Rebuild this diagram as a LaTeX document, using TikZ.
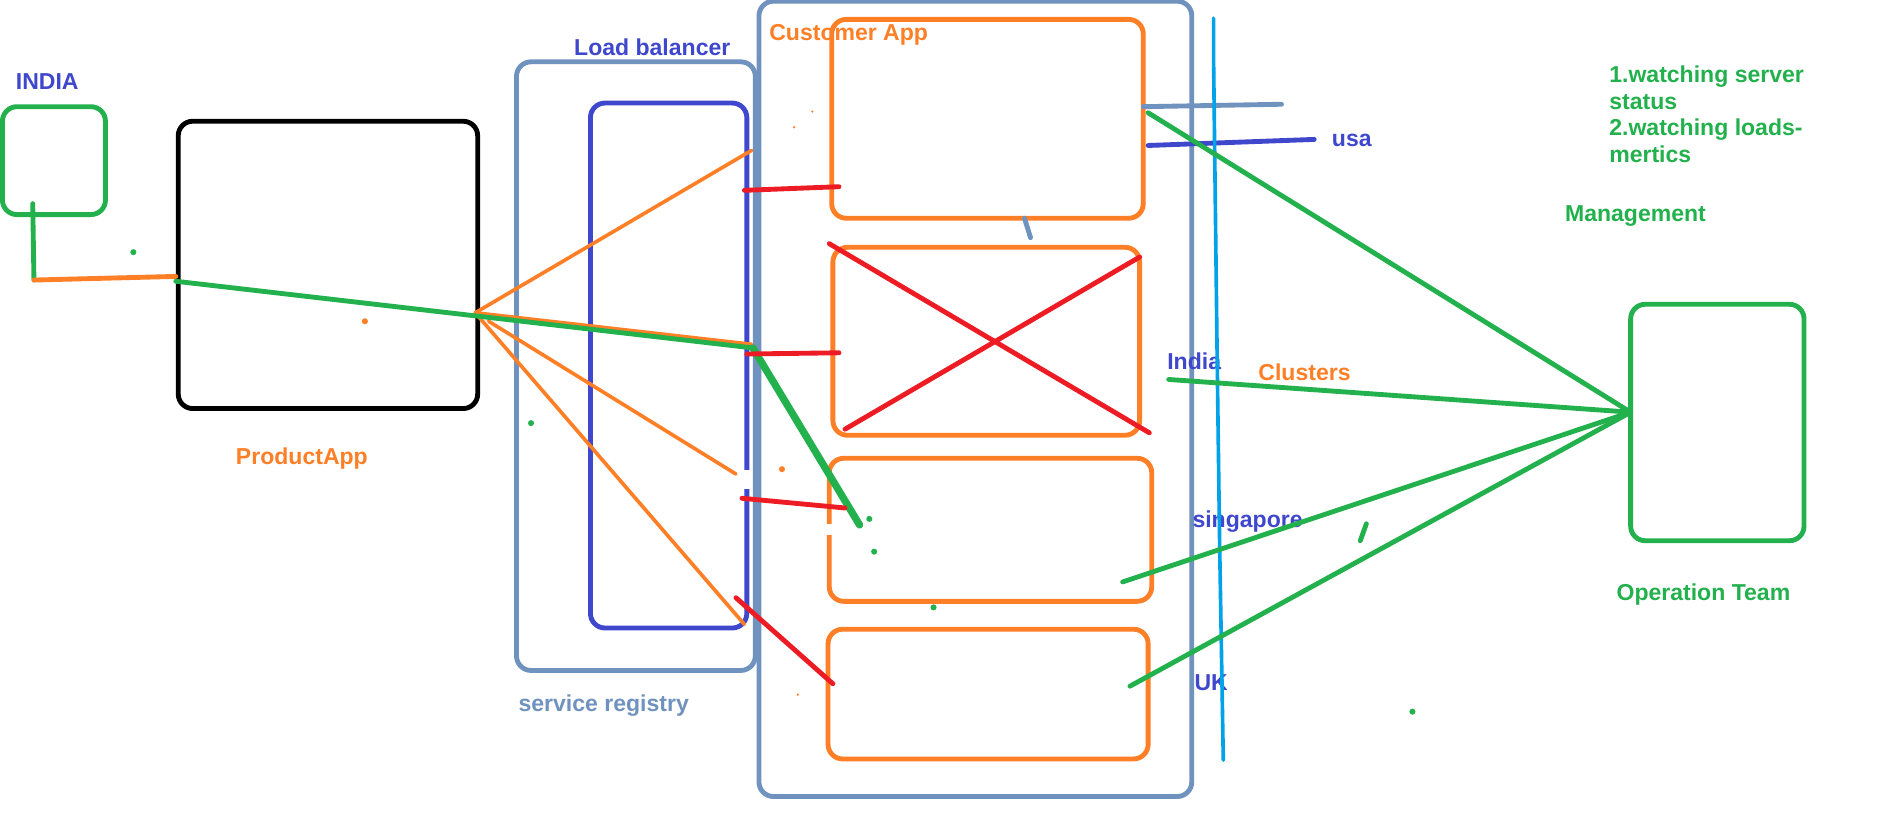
\documentclass[tikz,border=0pt]{standalone}
\usepackage{fontspec}
\setmainfont{Liberation Sans}
\definecolor{pgreen}{HTML}{22B14C}
\definecolor{porange}{HTML}{FF7F27}
\definecolor{pred}{HTML}{ED1C24}
\definecolor{pblue}{HTML}{3F48CC}
\definecolor{psteel}{HTML}{7092BE}
\definecolor{pcyan}{HTML}{00A2E8}
\begin{document}
\begin{tikzpicture}[x=0.5pt,y=-0.5pt,
  rbox/.style={draw, rounded corners=6pt, line width=2pt, inner sep=0pt},
  lbl/.style={font=\bfseries\fontsize{9.5}{11}\selectfont, inner sep=0pt},
  thin/.style={line width=1.5pt, line cap=round},
  med/.style={line width=2pt, line cap=round},
  thick/.style={line width=3pt, line cap=round},
  dot/.style={fill, inner sep=0pt, minimum size=2.5pt, circle}]
\useasboundingbox[fill=white] (0,0) rectangle (1568,678);

% boxes
\node[rbox, pgreen, minimum width=42.5pt, minimum height=44.5pt] (india) at (44.5,132.5) {};
\node[rbox, black, minimum width=123.5pt, minimum height=118.5pt] (prod) at (270.5,218.5) {};
\node[rbox, psteel, minimum width=98.5pt, minimum height=251pt] (sr) at (524.5,302) {};
\node[rbox, pblue, minimum width=64.5pt, minimum height=216.5pt] (lb) at (551.5,301.5) {};
\node[rbox, psteel, minimum width=178.5pt, minimum height=328pt] (ca) at (804.5,329) {};
\node[rbox, porange, minimum width=128.5pt, minimum height=82pt] (o1) at (814.5,98) {};
\node[rbox, porange, minimum width=126.5pt, minimum height=77.5pt] (o2) at (813.5,281.5) {};
\node[rbox, porange, minimum width=133pt, minimum height=59pt] (o3) at (817,437) {};
\node[rbox, porange, minimum width=132pt, minimum height=53.5pt] (o4) at (815,572.5) {};
\node[rbox, pgreen, minimum width=71.5pt, minimum height=97.5pt] (ot) at (1416.5,348.5) {};

% white gaps
\fill[white] (612,388) rectangle (620,403);
\fill[white] (680,432) rectangle (689,441);

% labels
\node[lbl, pblue] (tindia) at (39,67) {INDIA};
\node[lbl, porange] (tprod) at (249,378) {ProductApp};
\node[lbl, pblue] (tlb) at (538,39) {Load balancer};
\node[lbl, porange] (tca) at (700,29) {Customer App};
\node[lbl, psteel] (tsr) at (498,582) {service registry};
\node[lbl, pblue] (tusa) at (1115,116) {usa};
\node[lbl, pblue] (tin2) at (985,298) {India};
\node[lbl, porange] (tcl) at (1076,307) {Clusters};
\node[lbl, pblue] (tsg) at (1029,430) {singapore};
\node[lbl, pblue] (tuk) at (999,563) {UK};
\node[lbl, pgreen] (tmg) at (1349,178) {Management};
\node[lbl, pgreen] (tot) at (1405,490) {Operation Team};
\node[lbl, pgreen, anchor=north west, align=left] (tlist) at (1327,54) {1.watching server\\status\\2.watching loads-\\mertics};

% coordinates
\coordinate (a1) at (27,168);
\coordinate (a2) at (28,231);
\coordinate (a3) at (145,228);
\coordinate (f0) at (392,258);
\coordinate (f1) at (620,124);
\coordinate (f2) at (620,284);
\coordinate (f3s) at (403,265);
\coordinate (f3) at (607,391);
\coordinate (f4) at (614,515);
\coordinate (g0) at (145,232);
\coordinate (g1) at (621,287);
\coordinate (g2) at (709,433);
\coordinate (r1a) at (614,157); \coordinate (r1b) at (692,154);
\coordinate (r2a) at (616,292); \coordinate (r2b) at (692,291);
\coordinate (r3a) at (612,411); \coordinate (r3b) at (697,419);
\coordinate (r4a) at (607,493); \coordinate (r4b) at (687,564);
\coordinate (x1) at (684,201); \coordinate (x2) at (948,357);
\coordinate (x3) at (940,212); \coordinate (x4) at (697,354);
\coordinate (s1) at (943,88); \coordinate (s2) at (1057,86);
\coordinate (b1) at (947,120); \coordinate (b2) at (1084,115);
\coordinate (s3) at (845,180); \coordinate (s4) at (850,196);
\coordinate (c1) at (1001,15); \coordinate (c2) at (1001,50); \coordinate (c3) at (1004,300); \coordinate (c4) at (1006,450); \coordinate (c5) at (1009,627);
\coordinate (h) at (1345,340);
\coordinate (m1) at (947,93);
\coordinate (m2) at (964,313);
\coordinate (m3) at (926,480);
\coordinate (m4) at (932,566);
\coordinate (k1) at (1127,432); \coordinate (k2) at (1122,446);

% india connectors
\draw[med, pgreen] (a1) -- (a2);
\draw[med, porange] (a2) -- (a3);
% fan from product app
\draw[thin, porange] (f0) -- (f1);
\draw[thin, porange] (f0) -- (f2);
\draw[thin, porange] (f3s) -- (f3);
\draw[thin, porange] (f0) -- (f4);
\draw[med, pgreen] (g0) -- (g1);
\draw[thick, pgreen] (g1) -- (g2);
% red
\draw[med, pred] (r1a) -- (r1b);
\draw[med, pred] (r2a) -- (r2b);
\draw[med, pred] (r3a) -- (r3b);
\draw[med, pred] (r4a) -- (r4b);
\draw[med, pred] (x1) -- (x2);
\draw[med, pred] (x3) -- (x4);
% right side
\draw[med, psteel] (s1) -- (s2);
\draw[med, pblue] (b1) -- (b2);
\draw[med, psteel] (s3) -- (s4);
\draw[thin, pcyan] (c1) -- (c2) -- (c3) -- (c4) -- (c5);
\draw[med, pgreen] (m1) -- (h);
\draw[med, pgreen] (m2) -- (h);
\draw[med, pgreen] (m3) -- (h);
\draw[med, pgreen] (m4) -- (h);
\draw[med, pgreen] (k1) -- (k2);

% dots
\node[dot, pgreen] (d1) at (110,208) {};
\node[dot, porange] (d2) at (301,265) {};
\node[dot, pgreen] (d3) at (438,349) {};
\node[dot, pgreen] (d4) at (717,428) {};
\node[dot, pgreen] (d5) at (721,455) {};
\node[dot, pgreen] (d6) at (770,501) {};
\node[dot, pgreen] (d7) at (1165,587) {};
\node[dot, porange] (d8) at (645,387) {};
\node[dot, porange, minimum size=1pt] (d9) at (655,105) {};
\node[dot, porange, minimum size=1pt] (d10) at (670,92) {};
\node[dot, porange, minimum size=1pt] (d11) at (658,573) {};
\end{tikzpicture}
\end{document}
